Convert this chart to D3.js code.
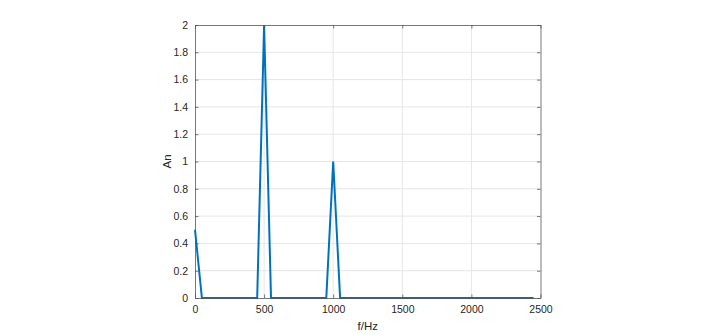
<!DOCTYPE html>
<html>
<head>
<meta charset="utf-8">
<script src="https://cdn.jsdelivr.net/npm/d3@7"></script>
<style>
  body { margin: 0; background: #fff; }
  svg { display: block; font-family: "Liberation Sans", Arial, sans-serif; }
</style>
</head>
<body>
<svg width="720" height="335"></svg>
<script>
  // spectrum samples, 50 Hz spacing
  const freq = [0, 50, 100, 150, 200, 250, 300, 350, 400, 450,
                500, 550, 600, 650, 700, 750, 800, 850, 900, 950,
                1000, 1050, 1100, 1150, 1200, 1250, 1300, 1350, 1400, 1450,
                1500, 1550, 1600, 1650, 1700, 1750, 1800, 1850, 1900, 1950,
                2000, 2050, 2100, 2150, 2200, 2250, 2300, 2350, 2400, 2450];
  const amp = [0.5, 0, 0, 0, 0, 0, 0, 0, 0, 0,
               2, 0, 0, 0, 0, 0, 0, 0, 0, 0,
               1, 0, 0, 0, 0, 0, 0, 0, 0, 0,
               0, 0, 0, 0, 0, 0, 0, 0, 0, 0,
               0, 0, 0, 0, 0, 0, 0, 0, 0, 0];
  const xTicks = [0, 500, 1000, 1500, 2000, 2500];
  const yTicks = [0, 0.2, 0.4, 0.6, 0.8, 1, 1.2, 1.4, 1.6, 1.8, 2];

  const svg = d3.select('svg');
  const m = { left: 195, right: 540.5, top: 25, bottom: 298 };

  const x = d3.scaleLinear().domain([0, 2500]).range([m.left, m.right]);
  const y = d3.scaleLinear().domain([0, 2]).range([m.bottom, m.top]);

  const axisColor = '#262626';

  // grid
  const grid = svg.append('g').attr('stroke', '#e6e6e6').attr('stroke-width', 1);
  grid.selectAll('.gx').data(xTicks.slice(1, -1)).enter().append('line')
    .attr('x1', d => x(d)).attr('x2', d => x(d))
    .attr('y1', m.top).attr('y2', m.bottom);
  grid.selectAll('.gy').data(yTicks.slice(1, -1)).enter().append('line')
    .attr('y1', d => y(d)).attr('y2', d => y(d))
    .attr('x1', m.left).attr('x2', m.right);

  // data line
  const line = d3.line().x((d, i) => x(freq[i])).y(d => y(d));
  svg.append('path')
    .datum(amp)
    .attr('d', line)
    .attr('fill', 'none')
    .attr('stroke', '#0072BD')
    .attr('stroke-width', 2)
    .attr('stroke-linejoin', 'miter');

  // axes (ticks pointing inward, box on all sides)
  const fmt = d => String(d);
  svg.append('g')
    .attr('transform', `translate(0,${m.bottom})`)
    .call(d3.axisBottom(x).tickValues(xTicks).tickFormat(fmt).tickSizeInner(-3.5).tickSizeOuter(0).tickPadding(8));
  svg.append('g')
    .attr('transform', `translate(0,${m.top})`)
    .call(d3.axisTop(x).tickValues(xTicks).tickFormat('').tickSizeInner(-3.5).tickSizeOuter(0));
  svg.append('g')
    .attr('transform', `translate(${m.left},0)`)
    .call(d3.axisLeft(y).tickValues(yTicks).tickFormat(fmt).tickSizeInner(-3.5).tickSizeOuter(0).tickPadding(7));
  svg.append('g')
    .attr('transform', `translate(${m.right},0)`)
    .call(d3.axisRight(y).tickValues(yTicks).tickFormat('').tickSizeInner(-3.5).tickSizeOuter(0));

  svg.selectAll('.domain').attr('stroke', '#555').attr('stroke-width', 0.8);
  svg.selectAll('.tick line').attr('stroke', '#555').attr('stroke-width', 0.8);
  svg.selectAll('.tick text').attr('fill', axisColor).attr('font-size', 10.5)
    .attr('font-family', '"Liberation Sans", Arial, sans-serif');

  // axis labels
  svg.append('text')
    .attr('x', (m.left + m.right) / 2).attr('y', 330)
    .attr('text-anchor', 'middle')
    .attr('font-size', 11.5).attr('fill', axisColor)
    .text('f/Hz');
  svg.append('text')
    .attr('transform', `translate(171,${(m.top + m.bottom) / 2}) rotate(-90)`)
    .attr('text-anchor', 'middle')
    .attr('font-size', 11.5).attr('fill', axisColor)
    .text('An');
</script>
</body>
</html>
